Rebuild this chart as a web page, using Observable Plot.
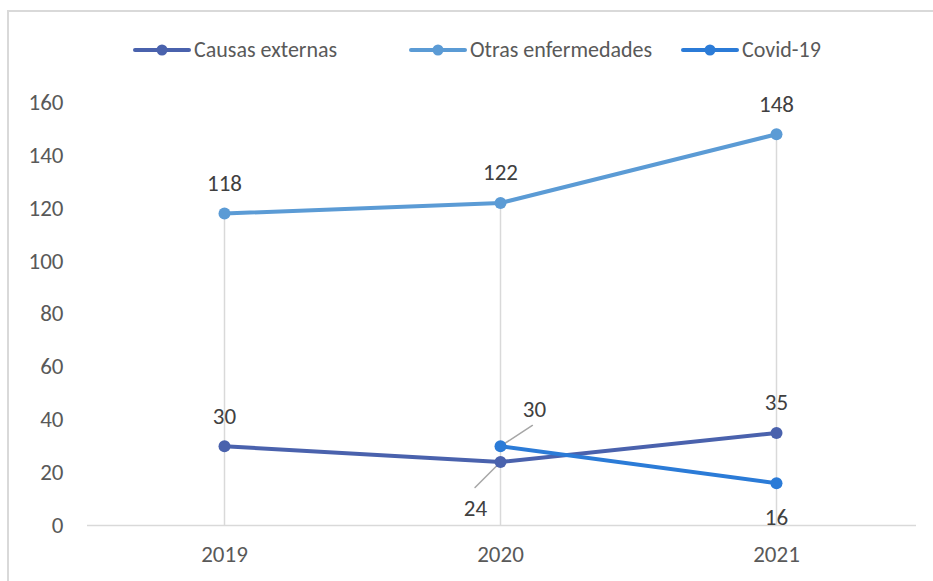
<!DOCTYPE html>
<html><head><meta charset="utf-8">
<script src="https://cdn.jsdelivr.net/npm/d3@7"></script>
<script src="https://cdn.jsdelivr.net/npm/@observablehq/plot@0.6"></script>
<style>
body{margin:0;background:#fff;}
#wrap{position:relative;width:933px;height:581px;overflow:hidden;font-family:Carlito,Calibri,Lato,"Open Sans",sans-serif;}
#frame{position:absolute;left:7px;top:10px;width:1000px;height:1000px;border:2px solid #d9d9d9;box-sizing:border-box;}
#legend{position:absolute;top:36px;left:0;width:933px;height:28px;font-size:22px;color:#595959;}
.item{position:absolute;top:0;display:flex;align-items:center;gap:3px;white-space:nowrap;}
#chart{position:absolute;left:0;top:0;}
</style></head>
<body>
<div id="wrap"><div id="frame"></div><div id="legend"></div><div id="chart"></div></div>
<script>
const years = ["2019", "2020", "2021"];
const seriesNames = ["Causas externas", "Otras enfermedades", "Covid-19"];
const seriesColors = ["#4a62ad", "#5b9bd5", "#2b7bd7"];
const causas = [30, 24, 35];
const otras = [118, 122, 148];
const covid = [null, 30, 16];
const yTicks = [0, 20, 40, 60, 80, 100, 120, 140, 160];

const seriesValues = [causas, otras, covid];
const rows = [];
seriesNames.forEach((s, i) => years.forEach((y, j) => {
  const v = seriesValues[i][j];
  if (v != null) rows.push({series: s, year: y, value: v});
}));
const drops = years.map((y, j) => ({year: y, top: d3.max(seriesValues, a => a[j])}));
const color = {domain: seriesNames, range: seriesColors};

// legend
const legendLeft = [133, 409, 681];
const leg = document.getElementById("legend");
seriesNames.forEach((s, i) => {
  const it = document.createElement("div"); it.className = "item";
  it.style.left = legendLeft[i] + "px";
  it.innerHTML = `<svg width="58" height="14"><line x1="2" x2="56" y1="7" y2="7" stroke="${seriesColors[i]}" stroke-width="4" stroke-linecap="round"/><circle cx="29" cy="7" r="5.5" fill="${seriesColors[i]}"/></svg><span>${s}</span>`;
  leg.appendChild(it);
});

const labelFont = {fontSize: 23, fill: "#404040", textAnchor: "middle", lineAnchor: "middle"};
const isAbove = d => !(d.series === "Covid-19") && !(d.series === "Causas externas" && d.year === "2020");
const leader = {draw(ctx, l) { ctx.moveTo(0, 0); ctx.lineTo(0, -l); }};

const chart = Plot.plot({
  width: 933, height: 581,
  marginTop: 102, marginBottom: 56, marginLeft: 85, marginRight: 19,
  style: {fontFamily: "Carlito,Calibri,Lato,'Open Sans',sans-serif", background: "transparent"},
  x: {type: "point", domain: years, padding: 0.5, label: null},
  y: {domain: [0, 160], ticks: yTicks, label: null},
  color,
  marks: [
    Plot.ruleX(drops, {x: "year", y1: 0, y2: "top", stroke: "#d9d9d9", strokeWidth: 1.5}),
    Plot.ruleY([0], {stroke: "#d9d9d9", strokeWidth: 1.5, dx: 2}),
    Plot.axisY({ticks: yTicks, tickSize: 0, tickPadding: 22, fontSize: 23, color: "#595959", label: null}),
    Plot.axisX({tickSize: 0, tickPadding: 20, fontSize: 23, color: "#595959", label: null}),
    Plot.vector(rows.filter(d => d.series === "Covid-19" && d.year === "2020"), {x: "year", y: "value", length: 38, rotate: 57, anchor: "start", shape: leader, stroke: "#a6a6a6", strokeWidth: 1.5}),
    Plot.vector(rows.filter(d => d.series === "Causas externas" && d.year === "2020"), {x: "year", y: "value", length: 36, rotate: 225, anchor: "start", shape: leader, stroke: "#a6a6a6", strokeWidth: 1.5}),
    Plot.line(rows, {x: "year", y: "value", z: "series", stroke: "series", strokeWidth: 4}),
    Plot.dot(rows, {x: "year", y: "value", fill: "series", r: 6}),
    Plot.text(rows.filter(isAbove), {x: "year", y: "value", text: "value", dy: -30, ...labelFont}),
    Plot.text(rows.filter(d => d.series === "Covid-19" && d.year === "2021"), {x: "year", y: "value", text: "value", dy: 34, ...labelFont}),
    Plot.text(rows.filter(d => d.series === "Covid-19" && d.year === "2020"), {x: "year", y: "value", text: "value", dx: 34, dy: -37, ...labelFont}),
    Plot.text(rows.filter(d => d.series === "Causas externas" && d.year === "2020"), {x: "year", y: "value", text: "value", dx: -25, dy: 47, ...labelFont})
  ]
});
document.getElementById("chart").appendChild(chart);
</script>
</body></html>
